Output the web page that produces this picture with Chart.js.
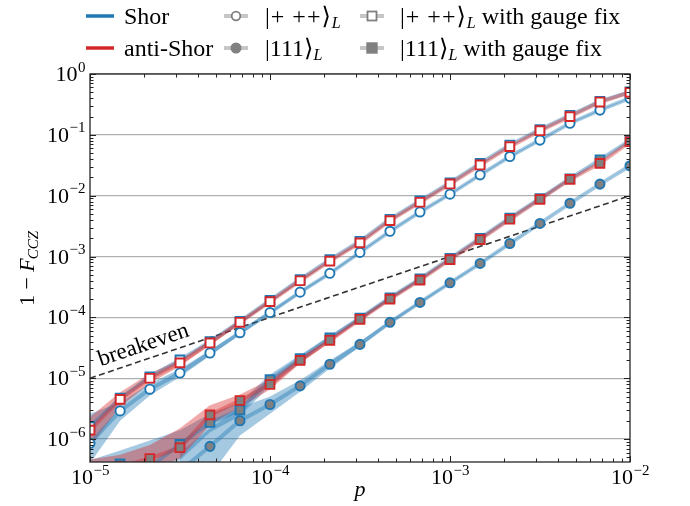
<!DOCTYPE html>
<html>
<head>
<meta charset="utf-8">
<script src="https://cdn.jsdelivr.net/npm/chart.js@4.4.1/dist/chart.umd.min.js"></script>
<style>
body { margin: 0; background: #fff; }
#wrap { position: relative; width: 690px; height: 506px; }
#c { position: absolute; left: 0; top: 0; }
.sw { position: absolute; }
.tx { position: absolute; font-family: "Liberation Serif", "DejaVu Serif", serif; font-size: 24px; line-height: 26px; white-space: nowrap; color: #000; }
.tx sub { font-size: 16px; font-style: italic; vertical-align: -4px; line-height: 0; }
.ket { letter-spacing: 1px; }
</style>
</head>
<body>
<div id="wrap">
  <canvas id="c" width="690" height="506"></canvas>

  <svg class="sw" style="left:86px;top:10px" width="28" height="12"><line x1="0" y1="6" x2="28" y2="6" stroke="#1f77b4" stroke-width="3.5"/></svg>
  <div class="tx" style="left:124px;top:3px">Shor</div>
  <svg class="sw" style="left:86px;top:42px" width="28" height="12"><line x1="0" y1="6" x2="28" y2="6" stroke="#d62728" stroke-width="3.5"/></svg>
  <div class="tx" style="left:124px;top:35px">anti-Shor</div>

  <svg class="sw" style="left:224px;top:9px" width="24" height="14"><line x1="0" y1="7" x2="24" y2="7" stroke="rgba(128,128,128,0.45)" stroke-width="4"/><circle cx="12" cy="7" r="4.3" fill="#fff" stroke="#808080" stroke-width="1.8"/></svg>
  <div class="tx" style="left:265px;top:3px"><span class="ket">|+ ++⟩</span><sub>L</sub></div>
  <svg class="sw" style="left:224px;top:41px" width="24" height="14"><line x1="0" y1="7" x2="24" y2="7" stroke="rgba(128,128,128,0.45)" stroke-width="4"/><circle cx="12" cy="7" r="4.8" fill="#808080" stroke="#808080" stroke-width="1.4"/></svg>
  <div class="tx" style="left:265px;top:35px">|111⟩<sub>L</sub></div>

  <svg class="sw" style="left:360px;top:9px" width="24" height="14"><line x1="0" y1="7" x2="24" y2="7" stroke="rgba(128,128,128,0.45)" stroke-width="4"/><rect x="7.5" y="2.5" width="9" height="9" fill="#fff" stroke="#808080" stroke-width="1.8"/></svg>
  <div class="tx" style="left:400px;top:3px"><span class="ket">|+ ++⟩</span><sub>L</sub> with gauge fix</div>
  <svg class="sw" style="left:360px;top:41px" width="24" height="14"><line x1="0" y1="7" x2="24" y2="7" stroke="rgba(128,128,128,0.45)" stroke-width="4"/><rect x="7" y="2" width="10" height="10" fill="#808080" stroke="#808080" stroke-width="1.4"/></svg>
  <div class="tx" style="left:400px;top:35px">|111⟩<sub>L</sub> with gauge fix</div>
</div>
<script>
// physical error rate p
var pValues = [1.0e-5, 1.47e-5, 2.15e-5, 3.16e-5, 4.64e-5, 6.81e-5, 1.0e-4, 1.47e-4, 2.15e-4, 3.16e-4,
               4.64e-4, 6.81e-4, 1.0e-3, 1.47e-3, 2.15e-3, 3.16e-3, 4.64e-3, 6.81e-3, 1.0e-2];

// |+++>_L
var shorPlus = [8.5e-7, 2.9e-6, 6.6e-6, 1.22e-5, 2.6e-5, 5.6e-5, 1.2e-4, 2.6e-4, 5.3e-4, 1.17e-3,
                2.6e-3, 5.4e-3, 1.06e-2, 2.2e-2, 4.4e-2, 8.2e-2, 0.155, 0.255, 0.40];
var shorPlusLow = [4.0e-7, 2.0e-6, 5.2e-6, 1.05e-5, 2.35e-5, 5.2e-5, 1.13e-4, 2.48e-4, 5.1e-4, 1.13e-3,
                   2.52e-3, 5.25e-3, 1.03e-2, 2.15e-2, 4.3e-2, 8.0e-2, 0.152, 0.25, 0.394];
var shorPlusHigh = [2.6e-6, 4.0e-6, 8.2e-6, 1.42e-5, 2.88e-5, 6.0e-5, 1.27e-4, 2.72e-4, 5.5e-4, 1.21e-3,
                    2.68e-3, 5.55e-3, 1.09e-2, 2.25e-2, 4.5e-2, 8.4e-2, 0.158, 0.26, 0.406];
var shorPlusGauge = [1.6e-6, 4.7e-6, 1.05e-5, 2.0e-5, 4.0e-5, 8.6e-5, 1.9e-4, 4.2e-4, 8.9e-4, 1.78e-3,
                     4.1e-3, 8.2e-3, 1.63e-2, 3.4e-2, 6.8e-2, 0.122, 0.21, 0.355, 0.51];
var antiPlusGauge = [1.4e-6, 4.5e-6, 1.0e-5, 1.79e-5, 3.8e-5, 8.3e-5, 1.82e-4, 4.0e-4, 8.4e-4, 1.68e-3,
                     3.9e-3, 7.8e-3, 1.56e-2, 3.2e-2, 6.4e-2, 0.117, 0.199, 0.346, 0.50];
var antiPlusLow = [7.5e-7, 3.4e-6, 8.3e-6, 1.58e-5, 3.5e-5, 7.8e-5, 1.74e-4, 3.86e-4, 8.2e-4, 1.64e-3,
                   3.82e-3, 7.67e-3, 1.54e-2, 3.16e-2, 6.34e-2, 0.116, 0.198, 0.344, 0.498];
var antiPlusHigh = [2.3e-6, 5.9e-6, 1.2e-5, 2.03e-5, 4.15e-5, 8.8e-5, 1.9e-4, 4.14e-4, 8.6e-4, 1.72e-3,
                    3.98e-3, 7.93e-3, 1.58e-2, 3.24e-2, 6.46e-2, 0.118, 0.2, 0.348, 0.502];

// |111>_L
var shorOne = [null, null, null, 3.0e-7, 7.6e-7, 2.0e-6, 3.7e-6, 7.5e-6, 1.7e-5, 3.6e-5,
               8.3e-5, 1.76e-4, 3.7e-4, 7.7e-4, 1.64e-3, 3.5e-3, 7.5e-3, 1.55e-2, 3.1e-2];
var shorOneLow = [null, null, null, 1.0e-7, 2.5e-7, 1.15e-6, 2.6e-6, 6.0e-6, 1.45e-5, 3.3e-5,
                  7.8e-5, 1.68e-4, 3.58e-4, 7.5e-4, 1.61e-3, 3.46e-3, 7.43e-3, 1.54e-2, 3.08e-2];
var shorOneHigh = [null, null, null, 6.0e-7, 1.5e-6, 3.3e-6, 5.0e-6, 9.3e-6, 1.95e-5, 4.0e-5,
                   8.8e-5, 1.84e-4, 3.82e-4, 7.9e-4, 1.67e-3, 3.54e-3, 7.57e-3, 1.56e-2, 3.12e-2];
var shorOneGauge = [2.5e-7, 3.9e-7, 3.5e-7, 8.2e-7, 1.87e-6, 3.0e-6, 9.5e-6, 2.1e-5, 4.6e-5, 9.7e-5,
                    2.1e-4, 4.3e-4, 9.3e-4, 2.0e-3, 4.3e-3, 9.0e-3, 1.9e-2, 3.9e-2, 8.1e-2];
var shorOneGaugeLow = [1.0e-7, 1.5e-7, 2.0e-7, 4.5e-7, 1.3e-6, 2.4e-6, 7.5e-6, 1.8e-5, 4.2e-5, 9.1e-5,
                       2.0e-4, 4.18e-4, 9.1e-4, 1.96e-3, 4.22e-3, 8.85e-3, 1.87e-2, 3.85e-2, 8.0e-2];
var shorOneGaugeHigh = [4.5e-7, 6.5e-7, 9.5e-7, 1.4e-6, 2.6e-6, 4.0e-6, 1.15e-5, 2.4e-5, 5.0e-5, 1.03e-4,
                        2.2e-4, 4.42e-4, 9.5e-4, 2.04e-3, 4.38e-3, 9.15e-3, 1.93e-2, 3.95e-2, 8.2e-2];
var antiOneGauge = [3.0e-7, 3.5e-7, 4.8e-7, 7.2e-7, 2.5e-6, 4.3e-6, 7.9e-6, 1.97e-5, 4.2e-5, 9.3e-5,
                    2.0e-4, 4.1e-4, 8.9e-4, 1.9e-3, 4.1e-3, 8.7e-3, 1.85e-2, 3.4e-2, 7.7e-2];
var antiOneLow = [1.5e-7, 2.0e-7, 3.0e-7, 4.8e-7, 1.7e-6, 3.3e-6, 6.5e-6, 1.75e-5, 3.9e-5, 8.8e-5,
                  1.92e-4, 3.98e-4, 8.7e-4, 1.87e-3, 4.05e-3, 8.6e-3, 1.83e-2, 3.37e-2, 7.65e-2];
var antiOneHigh = [4.6e-7, 5.5e-7, 8.0e-7, 1.5e-6, 3.6e-6, 5.4e-6, 9.5e-6, 2.2e-5, 4.5e-5, 9.8e-5,
                   2.08e-4, 4.22e-4, 9.1e-4, 1.93e-3, 4.15e-3, 8.8e-3, 1.87e-2, 3.43e-2, 7.75e-2];

// breakeven line 1-F = p
var breakevenP = [1e-5, 1e-2];
var yTicks = [1e-6, 1e-5, 1e-4, 1e-3, 1e-2, 1e-1, 1];
var xTicks = [1e-5, 1e-4, 1e-3, 1e-2];

var BLUE = '#1f77b4', RED = '#d62728', GRAY = '#808080';
var blueA = 'rgba(31,119,180,0.4)', redA = 'rgba(214,39,40,0.4)';

function pts(xs, ys) {
  return ys.map(function (v, i) { return {x: xs[i], y: v}; });
}

function band(lo, hi, color, order) {
  return [
    {data: pts(pValues, lo), borderWidth: 0, pointRadius: 0, fill: false, order: order, clip: 0},
    {data: pts(pValues, hi), borderWidth: 0, pointRadius: 0, fill: '-1', backgroundColor: color, order: order, clip: 0}
  ];
}

function series(arr, edge, face, style, lineCol, order) {
  return {
    data: pts(pValues, arr), borderColor: lineCol, borderWidth: 4, fill: false,
    pointStyle: style, pointRadius: style === 'rect' ? 6.2 : 4.6,
    pointBorderColor: edge, pointBackgroundColor: face, pointBorderWidth: 1.9,
    order: order, clip: 0
  };
}

var datasets = [];
datasets = datasets.concat(band(shorPlusLow, shorPlusHigh, blueA, 30));
datasets = datasets.concat(band(antiPlusLow, antiPlusHigh, redA, 29));
datasets = datasets.concat(band(shorOneLow, shorOneHigh, blueA, 28));
datasets = datasets.concat(band(shorOneGaugeLow, shorOneGaugeHigh, blueA, 27));
datasets = datasets.concat(band(antiOneLow, antiOneHigh, redA, 26));
datasets.push({data: pts(breakevenP, breakevenP), borderColor: '#333', borderWidth: 1.6, borderDash: [6, 3.5],
               pointRadius: 0, fill: false, order: 20, clip: 0});
datasets.push(series(shorPlus, BLUE, '#fff', 'circle', blueA, 10));
datasets.push(series(shorPlusGauge, BLUE, '#fff', 'rect', blueA, 9));
datasets.push(series(antiPlusGauge, RED, '#fff', 'rect', redA, 8));
datasets.push(series(shorOne, BLUE, GRAY, 'circle', blueA, 7));
datasets.push(series(shorOneGauge, BLUE, GRAY, 'rect', blueA, 6));
datasets.push(series(antiOneGauge, RED, GRAY, 'rect', redA, 5));

var SERIF = '"Liberation Serif", "DejaVu Serif", serif';

function supLabel(ctx, exp, x, y, align) {
  // draws 10^exp ; y is baseline of "10"
  var base = '10', sup = exp < 0 ? '\u2212' + (-exp) : String(exp);
  ctx.font = '22px ' + SERIF;
  var w1 = ctx.measureText(base).width;
  ctx.font = '15px ' + SERIF;
  var w2 = ctx.measureText(sup).width;
  var x0 = align === 'right' ? x - w1 - w2 : x - (w1 + w2) / 2;
  ctx.font = '22px ' + SERIF;
  ctx.fillText(base, x0, y);
  ctx.font = '15px ' + SERIF;
  ctx.fillText(sup, x0 + w1 + 0.5, y - 9.5);
}

var axesDeco = {
  id: 'axesDeco',
  afterDraw: function (chart) {
    var ctx = chart.ctx, a = chart.chartArea, xs = chart.scales.x, ys = chart.scales.y;
    ctx.save();
    ctx.strokeStyle = '#222';
    ctx.lineWidth = 1;
    // inward ticks, major and minor, all four sides
    for (var d = -7; d <= 0; d++) {
      for (var m = 1; m <= 9; m++) {
        var v = m * Math.pow(10, d);
        var len = m === 1 ? 6 : 3.5;
        if (v >= xs.min * 0.999 && v <= xs.max * 1.001) {
          var px = Math.round(xs.getPixelForValue(v)) + 0.5;
          ctx.beginPath();
          ctx.moveTo(px, a.bottom); ctx.lineTo(px, a.bottom - len);
          ctx.moveTo(px, a.top); ctx.lineTo(px, a.top + len);
          ctx.stroke();
        }
        if (v >= ys.min * 0.999 && v <= ys.max * 1.001) {
          var py = Math.round(ys.getPixelForValue(v)) + 0.5;
          ctx.beginPath();
          ctx.moveTo(a.left, py); ctx.lineTo(a.left + len, py);
          ctx.moveTo(a.right, py); ctx.lineTo(a.right - len, py);
          ctx.stroke();
        }
      }
    }
    // frame
    ctx.strokeStyle = '#262626';
    ctx.lineWidth = 1.3;
    ctx.strokeRect(a.left, a.top, a.right - a.left, a.bottom - a.top);

    // tick labels
    ctx.fillStyle = '#000';
    ctx.textAlign = 'left';
    ctx.textBaseline = 'alphabetic';
    yTicks.forEach(function (v) {
      supLabel(ctx, Math.round(Math.log10(v)), a.left - 5, ys.getPixelForValue(v) + 7, 'right');
    });
    xTicks.forEach(function (v) {
      supLabel(ctx, Math.round(Math.log10(v)), xs.getPixelForValue(v), a.bottom + 22, 'center');
    });

    // x axis title
    ctx.font = 'italic 22px ' + SERIF;
    ctx.textAlign = 'center';
    ctx.fillText('p', (a.left + a.right) / 2, 496);

    // y axis title: 1 - F_CCZ
    ctx.save();
    ctx.translate(27, (a.top + a.bottom) / 2);
    ctx.rotate(-Math.PI / 2);
    ctx.textAlign = 'left';
    ctx.font = '22px ' + SERIF;
    var t1 = '1 \u2212 ', w1 = ctx.measureText(t1).width;
    ctx.font = 'italic 22px ' + SERIF;
    var w2 = ctx.measureText('F').width;
    ctx.font = 'italic 15px ' + SERIF;
    var w3 = ctx.measureText('CCZ').width;
    var x0 = -(w1 + w2 + w3) / 2;
    ctx.font = '22px ' + SERIF;
    ctx.fillText(t1, x0, 7);
    ctx.font = 'italic 22px ' + SERIF;
    ctx.fillText('F', x0 + w1, 7);
    ctx.font = 'italic 15px ' + SERIF;
    ctx.fillText('CCZ', x0 + w1 + w2 - 1, 11);
    ctx.restore();

    // breakeven label along the dashed line
    var bx0 = xs.getPixelForValue(breakevenP[0]), by0 = ys.getPixelForValue(breakevenP[0]);
    var bx1 = xs.getPixelForValue(breakevenP[1]), by1 = ys.getPixelForValue(breakevenP[1]);
    var ang = Math.atan2(by1 - by0, bx1 - bx0);
    var lp = 2.1e-5;
    ctx.save();
    ctx.translate(xs.getPixelForValue(lp), ys.getPixelForValue(lp));
    ctx.rotate(ang);
    ctx.font = '23px ' + SERIF;
    ctx.textAlign = 'center';
    ctx.fillText('breakeven', 0, -8);
    ctx.restore();

    ctx.restore();
  }
};

new Chart(document.getElementById('c'), {
  type: 'line',
  data: {datasets: datasets},
  options: {
    responsive: false,
    animation: false,
    layout: {padding: {left: 90, right: 60, top: 74, bottom: 44}},
    elements: {line: {tension: 0}},
    plugins: {legend: {display: false}, tooltip: {enabled: false}},
    scales: {
      x: {type: 'logarithmic', min: 1e-5, max: 1e-2, display: false},
      y: {
        type: 'logarithmic', min: 4.2e-7, max: 1,
        afterBuildTicks: function (scale) {
          scale.ticks = yTicks.map(function (v) { return {value: v}; });
        },
        ticks: {display: false},
        grid: {color: '#b0b0b0', lineWidth: 1.3, drawTicks: false},
        border: {display: false}
      }
    }
  },
  plugins: [axesDeco]
});
</script>
</body>
</html>
